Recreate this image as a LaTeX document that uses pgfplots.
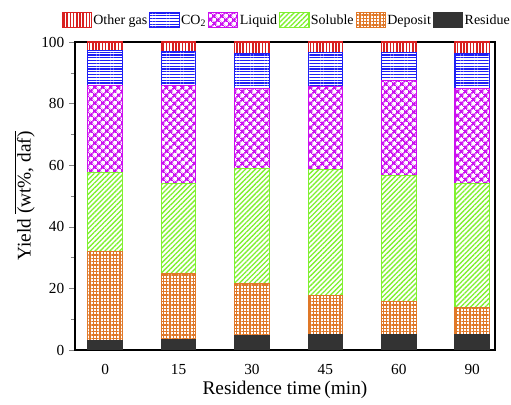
\documentclass[border=0pt]{standalone}
\usepackage{pgfplots}
\pgfplotsset{compat=1.18}
\usepackage{fontspec}
\setmainfont{Liberation Serif}
\usetikzlibrary{patterns.meta}
\definecolor{cOther}{HTML}{D92020}
\definecolor{cCO}{HTML}{1F1FF5}
\definecolor{cLiq}{HTML}{CC10F0}
\definecolor{cSol}{HTML}{80F030}
\definecolor{cDep}{HTML}{E07828}
\definecolor{cRes}{HTML}{333333}
\begin{document}
\begin{tikzpicture}
\begin{axis}[
  scale only axis,
  width=315pt, height=231pt,
  ybar stacked,
  bar width=0.47,
  xmin=-0.41, xmax=5.31,
  ymin=0, ymax=100,
  xtick={0,1,2,3,4,5},
  xticklabels={0,15,30,45,60,90},
  x tick style={draw=none},
  ytick={0,20,40,60,80,100},
  minor y tick num=1,
  tick align=outside,
  ytick pos=left,
  major tick length=4.5pt,
  minor tick length=3pt,
  axis line style={line width=0.9pt},
  /pgf/number format/assume math mode=true,
  tick label style={font=\fontsize{11.5}{13}\selectfont},
  xticklabel style={yshift=-3pt},
  xlabel={Residence time\,(min)},
  ylabel={Yield \ensuremath{\overline{\mbox{(wt\%, daf)}}}},
  label style={font=\fontsize{14.5}{16}\selectfont},
  xlabel style={yshift=2pt},
  ylabel style={yshift=-2pt},
  legend columns=6,
  reverse legend,
  legend style={at={(0.5,1)}, anchor=south, xshift=1pt, yshift=8pt, draw=none, fill=none,
    font=\fontsize{10.5}{12}\selectfont,
    nodes={inner xsep=1pt, inner ysep=1pt},
    /tikz/every even column/.append style={column sep=0.5pt},
    /tikz/every odd column/.append style={column sep=0pt}},
  legend image code/.code={\draw[#1] (0pt,-5.5pt) rectangle (22pt,6pt);},
]
\addplot[fill=cRes, draw=cRes, line width=0.8pt] coordinates {(0,3.2) (1,3.4) (2,4.7) (3,5.0) (4,5.0) (5,5.0)};
\addplot[draw=cDep, line width=0.8pt, pattern={Hatch[angle=0, distance=2.5pt, line width=0.95pt]}, pattern color=cDep] coordinates {(0,28.9) (1,21.5) (2,17.0) (3,12.6) (4,10.8) (5,8.9)};
\addplot[draw=cSol, line width=0.8pt, pattern={Lines[angle=45, distance=2.6pt, line width=1.0pt]}, pattern color=cSol] coordinates {(0,25.4) (1,29.3) (2,37.3) (3,41.0) (4,40.8) (5,40.3)};
\addplot[draw=cLiq, line width=0.8pt, pattern={Hatch[angle=45, distance=4pt, line width=1.4pt]}, pattern color=cLiq] coordinates {(0,28.5) (1,31.8) (2,25.9) (3,27.0) (4,31.0) (5,30.7)};
\addplot[draw=cCO, line width=0.8pt, pattern={Lines[angle=0, distance=2.1pt, line width=1.0pt]}, pattern color=cCO] coordinates {(0,11.1) (1,10.8) (2,11.5) (3,11.1) (4,9.1) (5,11.3)};
\addplot[draw=cOther, line width=0.8pt, pattern={Lines[angle=90, distance=2.4pt, line width=1.1pt]}, pattern color=cOther] coordinates {(0,2.9) (1,3.2) (2,3.6) (3,3.3) (4,3.3) (5,3.8)};
\legend{Residue, Deposit, Soluble, Liquid, CO\textsubscript{2}, Other gas}
\end{axis}
\pgfresetboundingbox
\path[use as bounding box] ([xshift=-56.25pt, yshift=-41.25pt]current axis.south west) rectangle ([xshift=12pt, yshift=31.5pt]current axis.north east);
\end{tikzpicture}
\end{document}
